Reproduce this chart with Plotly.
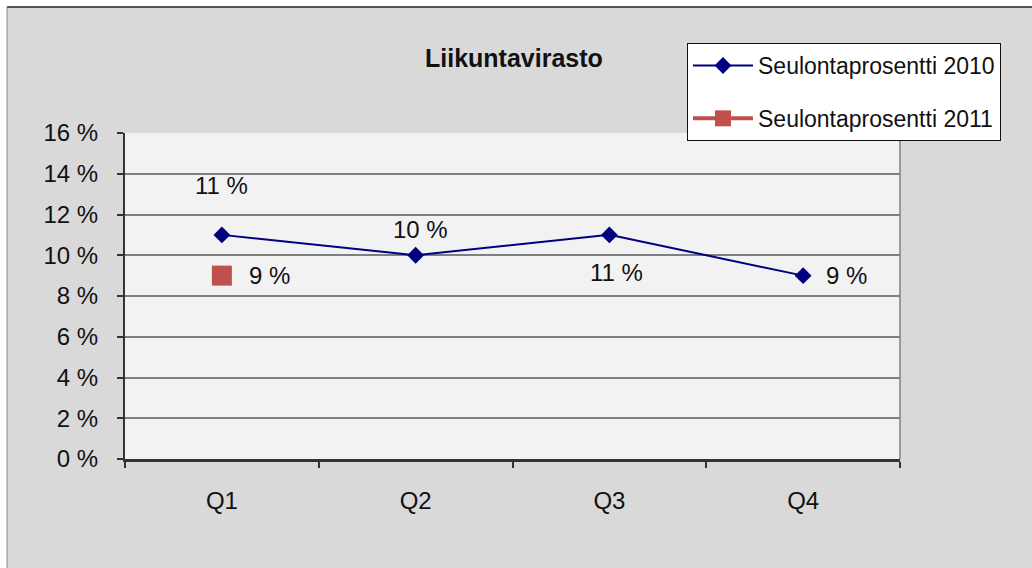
import plotly.graph_objects as go

categories = ["Q1", "Q2", "Q3", "Q4"]
values_2010 = [11, 10, 11, 9]
values_2011 = [9, None, None, None]
series_names = ["Seulontaprosentti 2010", "Seulontaprosentti 2011"]
y_ticks = [0, 2, 4, 6, 8, 10, 12, 14, 16]
y_tick_labels = [f"{v} %" for v in y_ticks]
title_text = "Liikuntavirasto"

# label offsets (px) for the data labels, per category
label_shift_2010 = [(0, 49), (5, 26), (7, -38), (43, 0)]
label_shift_2011 = [(48, 0), None, None, None]

FONT = "Liberation Sans, Arial, sans-serif"
TXT = "#111111"

fig = go.Figure()
fig.add_trace(go.Scatter(
    x=categories, y=values_2010, mode="lines+markers", name=series_names[0],
    line=dict(color="#000080", width=2),
    marker=dict(symbol="diamond", size=13, color="#000080"),
    legendgroup="a",
))
fig.add_trace(go.Scatter(
    x=categories, y=values_2011, mode="lines+markers", name=series_names[1],
    line=dict(color="#C0504D", width=4),
    marker=dict(symbol="square", size=20, color="#C0504D"),
    legendgroup="b",
))

W, H = 1032, 568
L, R, T, B = 125, 900, 133, 459
def px(x):
    return (x - L) / (R - L)
def py(y):
    return (B - y) / (B - T)

annotations = []
for vals, shifts in ((values_2010, label_shift_2010), (values_2011, label_shift_2011)):
    for cat, v, sh in zip(categories, vals, shifts):
        if v is None or sh is None:
            continue
        annotations.append(dict(x=cat, y=v, xref="x", yref="y", text=f"{v} %",
                                showarrow=False, xshift=sh[0], yshift=sh[1],
                                xanchor="center", yanchor="middle",
                                font=dict(family=FONT, size=24, color=TXT)))
annotations.append(dict(x=px(514), y=py(58), xref="paper", yref="paper",
                        xanchor="center", yanchor="middle",
                        text=f"<b>{title_text}</b>", showarrow=False,
                        font=dict(family=FONT, size=25, color=TXT)))

shapes = [
    dict(type="rect", xref="paper", yref="paper", x0=px(-5), x1=px(W + 5), y0=py(7), y1=py(-5),
         fillcolor="white", line=dict(width=0), layer="below"),
    dict(type="rect", xref="paper", yref="paper", x0=px(-5), x1=px(7), y0=py(H + 5), y1=py(-5),
         fillcolor="white", line=dict(width=0), layer="below"),
    dict(type="line", xref="paper", yref="paper", x0=px(7), x1=px(W + 5), y0=py(7), y1=py(7),
         line=dict(color="#222222", width=1.5)),
    dict(type="line", xref="paper", yref="paper", x0=px(7), x1=px(7), y0=py(7), y1=py(H + 5),
         line=dict(color="#888888", width=1)),
    dict(type="line", xref="paper", yref="paper", x0=1, x1=1, y0=0, y1=1,
         line=dict(color="#808080", width=1.5)),
]

fig.update_layout(
    width=W, height=H,
    margin=dict(l=L, r=W - R, t=T, b=H - B, pad=0),
    paper_bgcolor="#D9D9D9",
    plot_bgcolor="#F2F2F2",
    font=dict(family=FONT, size=24, color=TXT),
    showlegend=True,
    legend=dict(
        x=px(687), y=py(43), xanchor="left", yanchor="top",
        bgcolor="white", bordercolor="#111111", borderwidth=1,
        font=dict(family=FONT, size=23, color=TXT),
        traceorder="grouped", tracegroupgap=20, itemwidth=60,
    ),
    annotations=annotations,
    shapes=shapes,
    xaxis=dict(
        type="category", range=[-0.5, 3.5], tickson="boundaries",
        ticks="outside", ticklen=6, tickcolor="#333333", tickwidth=1.5,
        showline=True, linecolor="#333333", linewidth=2.5,
        showgrid=False, zeroline=False,
        ticklabelstandoff=18,
        tickfont=dict(family=FONT, size=24, color=TXT),
    ),
    yaxis=dict(
        range=[0, 16], tickvals=y_ticks, ticktext=y_tick_labels,
        ticks="outside", ticklen=6, tickcolor="#333333", tickwidth=1.5,
        showline=True, linecolor="#333333", linewidth=2,
        showgrid=True, gridcolor="#7F7F7F", gridwidth=1.5,
        zeroline=False, ticklabelstandoff=14,
        tickfont=dict(family=FONT, size=24, color=TXT),
    ),
)

fig.write_html("out.html", config={"displayModeBar": False},
               post_script="document.body.style.margin='0';document.body.style.overflow='hidden';")
